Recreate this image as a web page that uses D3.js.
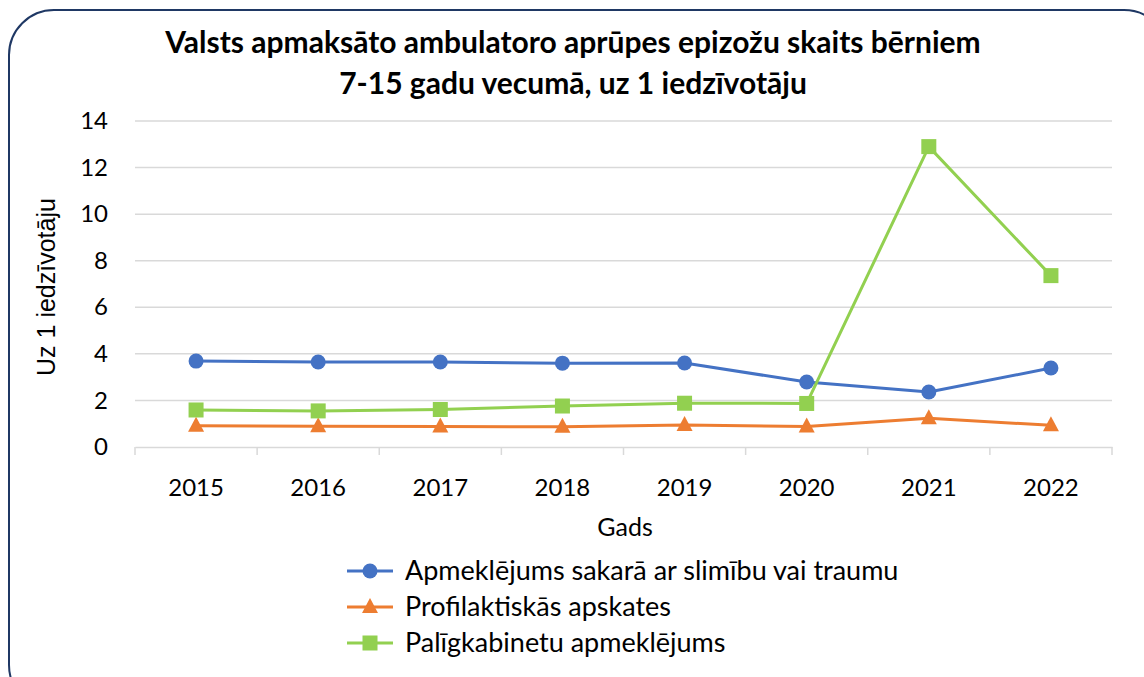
<!DOCTYPE html>
<html><head><meta charset="utf-8">
<script src="https://cdn.jsdelivr.net/npm/d3@7"></script>
<style>body{margin:0;background:#fff}svg{display:block;font-family:Lato,"Open Sans",sans-serif}</style>
</head><body>
<svg id="c" width="1144" height="677"></svg>
<script>
const years = ["2015","2016","2017","2018","2019","2020","2021","2022"];
const seriesNames = ["Apmeklējums sakarā ar slimību vai traumu","Profilaktiskās apskates","Palīgkabinetu apmeklējums"];
const valsSlimiba = [3.69,3.65,3.65,3.60,3.61,2.79,2.36,3.39];
const valsProfil = [0.91,0.89,0.88,0.87,0.94,0.88,1.23,0.93];
const valsPalig = [1.59,1.55,1.61,1.76,1.88,1.87,12.9,7.36];
const yTicks = [0,2,4,6,8,10,12,14];
const colors = ["#4472c4","#ed7d31","#92d050"];
const markers = ["circle","triangle","square"];
const titleLines = ["Valsts apmaksāto ambulatoro aprūpes epizožu skaits bērniem","7-15 gadu vecumā, uz 1 iedzīvotāju"];

const svg = d3.select("#c");
svg.append("rect").attr("x",9).attr("y",10).attr("width",1160).attr("height",700).attr("rx",45).attr("ry",45)
  .attr("fill","#fff").attr("stroke","#1f3864").attr("stroke-width",2);

const L=135,R=1112,T=121,B=447;
const x = d3.scaleBand().domain(years).range([L,R]);
const y = d3.scaleLinear().domain([0,14]).range([B,T]);

svg.append("g").selectAll("line").data(yTicks.filter(d=>d>0)).join("line")
  .attr("x1",L).attr("x2",R).attr("y1",d=>y(d)).attr("y2",d=>y(d)).attr("stroke","#d9d9d9").attr("stroke-width",1.5);

const ya = svg.append("g").attr("transform",`translate(${L},0)`).call(d3.axisLeft(y).tickValues(yTicks).tickSize(0).tickPadding(27));
ya.select(".domain").remove();
ya.selectAll("text").attr("font-size",24).attr("fill","#000").attr("font-family","Lato");

const xa = svg.append("g").attr("transform",`translate(0,${B})`).call(d3.axisBottom(x).tickSize(0).tickPadding(32));
xa.select(".domain").attr("stroke","#d9d9d9").attr("stroke-width",1.5);
xa.selectAll("text").attr("font-size",24).attr("fill","#000").attr("font-family","Lato");
const bounds = years.map(d=>x(d)).concat([R]);
svg.append("g").selectAll("line").data(bounds).join("line")
  .attr("x1",d=>d).attr("x2",d=>d).attr("y1",B).attr("y2",B+8).attr("stroke","#d9d9d9").attr("stroke-width",1.5);

const all = [valsSlimiba,valsProfil,valsPalig];
const cx = d=>x(d)+x.bandwidth()/2;
function drawMarker(g,type,px,py,col){
  if(type==="circle") g.append("circle").attr("cx",px).attr("cy",py).attr("r",7.5).attr("fill",col);
  else if(type==="square") g.append("rect").attr("x",px-7.5).attr("y",py-7.5).attr("width",15).attr("height",15).attr("fill",col);
  else g.append("path").attr("d",`M${px},${py-9}L${px+8},${py+6}L${px-8},${py+6}Z`).attr("fill",col);
}
all.forEach((vals,i)=>{
  const g = svg.append("g");
  const line = d3.line().x((d,j)=>cx(years[j])).y(d=>y(d));
  g.append("path").attr("d",line(vals)).attr("fill","none").attr("stroke",colors[i]).attr("stroke-width",3).attr("stroke-linejoin","round");
  vals.forEach((v,j)=>drawMarker(g,markers[i],cx(years[j]),y(v),colors[i]));
});

svg.append("g").selectAll("text").data(titleLines).join("text")
  .attr("x",573).attr("y",(d,i)=>53+i*41).attr("text-anchor","middle").attr("font-weight","bold").attr("font-size",30).text(d=>d);

svg.append("text").attr("x",625).attr("y",536).attr("text-anchor","middle").attr("font-size",25).text("Gads");
svg.append("text").attr("transform","translate(55,287) rotate(-90)").attr("text-anchor","middle").attr("font-size",25)
  .attr("font-family","'Liberation Sans',Arial,sans-serif").text("Uz 1 iedzīvotāju");

const lg = svg.append("g");
seriesNames.forEach((n,i)=>{
  const yy = 571+i*36;
  lg.append("line").attr("x1",347).attr("x2",393).attr("y1",yy).attr("y2",yy).attr("stroke",colors[i]).attr("stroke-width",3);
  drawMarker(lg,markers[i],370,yy,colors[i]);
  lg.append("text").attr("x",405).attr("y",yy+9).attr("font-size",27).text(n);
});
</script>
</body></html>
